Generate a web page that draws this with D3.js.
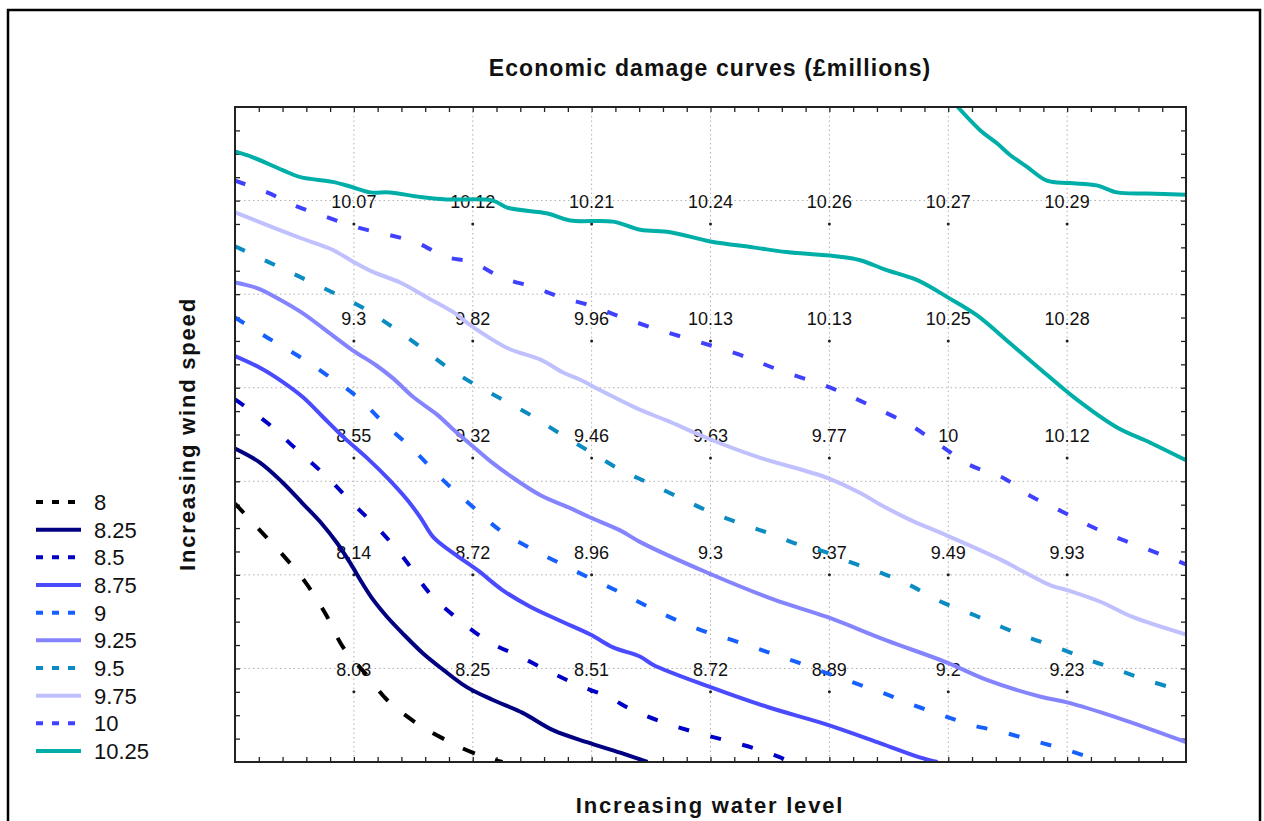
<!DOCTYPE html>
<html>
<head>
<meta charset="utf-8">
<title>Economic damage curves</title>
<script src="https://d3js.org/d3.v7.min.js"></script>
<style>
  body { margin: 0; background: #fff; }
  text { font-family: "Liberation Sans", Arial, sans-serif; fill: #111; }
</style>
</head>
<body>
<div id="chart"></div>
<script>
// value grid: columns = water level steps, rows = wind speed steps (bottom row first)
const waterSteps = [1, 2, 3, 4, 5, 6, 7];
const windSteps = [1, 2, 3, 4, 5];
const values = [
  [8.03, 8.25, 8.51, 8.72, 8.89, 9.2, 9.23],
  [8.14, 8.72, 8.96, 9.3, 9.37, 9.49, 9.93],
  [8.55, 9.32, 9.46, 9.63, 9.77, 10, 10.12],
  [9.3, 9.82, 9.96, 10.13, 10.13, 10.25, 10.28],
  [10.07, 10.12, 10.21, 10.24, 10.26, 10.27, 10.29]
];

// contour levels and their look
const levels = [8, 8.25, 8.5, 8.75, 9, 9.25, 9.5, 9.75, 10, 10.25];
const levelColors = ["#000000", "#000080", "#0000c8", "#4a4aff", "#1560ff",
                     "#8484ff", "#0a8bc2", "#c0c0ff", "#4040ff", "#00aea8"];
const levelDashed = [true, false, true, false, true, false, true, false, true, false];

// contour paths, in axis units [water, wind]
const c800 = [[0,2.61],[0.21,2.38],[0.42,2.15],[0.59,1.94],[0.76,1.67],[0.91,1.38],[1.11,1.14],
  [1.28,0.93],[1.53,0.73],[1.77,0.59],[2.0,0.48],[2.25,0.4]];
const c825 = [[0,3.08],[0.21,2.96],[0.4,2.79],[0.57,2.61],[0.72,2.45],[0.86,2.27],[0.97,2.1],
  [1.07,1.93],[1.16,1.79],[1.28,1.64],[1.41,1.5],[1.58,1.33],[1.75,1.19],[1.95,1.04],[2.17,0.93],
  [2.42,0.82],[2.68,0.67],[2.96,0.57],[3.24,0.48],[3.47,0.4]];
const c850 = [[0,3.5],[0.27,3.3],[0.52,3.07],[0.77,2.84],[0.99,2.61],[1.22,2.38],[1.43,2.13],
  [1.64,1.84],[1.89,1.61],[2.15,1.42],[2.4,1.3],[2.65,1.17],[2.88,1.06],[3.13,0.96],[3.35,0.84],
  [3.6,0.74],[3.85,0.66],[4.11,0.59],[4.36,0.52],[4.61,0.43],[4.67,0.4]];
const c875 = [[0,3.87],[0.21,3.77],[0.4,3.65],[0.57,3.52],[0.74,3.35],[0.91,3.18],[1.11,3.0],
  [1.3,2.81],[1.45,2.64],[1.56,2.49],[1.67,2.32],[1.83,2.19],[2.04,2.04],[2.25,1.87],[2.48,1.73],
  [2.73,1.61],[2.99,1.49],[3.18,1.38],[3.41,1.3],[3.52,1.23],[4.0,1.04],[4.48,0.87],[4.98,0.72],
  [5.43,0.56],[5.76,0.44],[5.91,0.4]];
const c900 = [[0,4.2],[0.27,4.03],[0.52,3.88],[0.77,3.71],[1.03,3.52],[1.25,3.3],[1.5,3.07],
  [1.75,2.81],[1.98,2.6],[2.23,2.38],[2.48,2.23],[2.73,2.1],[2.99,1.97],[3.24,1.85],[3.47,1.73],
  [3.72,1.61],[3.97,1.51],[4.22,1.43],[4.48,1.34],[4.71,1.26],[4.95,1.17],[5.2,1.08],[5.45,0.99],
  [5.7,0.89],[5.95,0.8],[6.18,0.72],[6.44,0.66],[6.69,0.59],[6.94,0.52],[7.19,0.44],[7.3,0.4]];
const c925 = [[0,4.5],[0.19,4.45],[0.35,4.37],[0.55,4.25],[0.74,4.11],[0.99,3.92],[1.19,3.79],
  [1.33,3.68],[1.5,3.52],[1.7,3.37],[1.85,3.23],[2.0,3.1],[2.15,2.97],[2.31,2.85],[2.57,2.68],
  [2.82,2.57],[2.99,2.49],[3.24,2.38],[3.41,2.28],[3.97,2.02],[4.53,1.79],[4.98,1.64],[5.48,1.44],
  [5.99,1.25],[6.33,1.1],[6.77,0.96],[7.0,0.91],[7.42,0.78],[8.0,0.57]];
const c950 = [[0,4.81],[0.27,4.68],[0.52,4.56],[0.77,4.44],[1.03,4.31],[1.28,4.15],[1.53,3.97],
  [1.78,3.78],[1.98,3.65],[2.23,3.51],[2.48,3.37],[2.73,3.21],[2.99,3.05],[3.24,2.9],[3.47,2.79],
  [3.72,2.67],[3.97,2.55],[4.22,2.45],[4.48,2.36],[4.71,2.27],[4.95,2.2],[5.2,2.1],[5.43,2.02],
  [5.68,1.91],[5.96,1.76],[6.21,1.66],[6.46,1.55],[6.69,1.46],[6.94,1.37],[7.19,1.27],[7.42,1.19],
  [7.67,1.1],[8.0,1.0]];
const c975 = [[0,5.1],[0.27,4.99],[0.55,4.88],[0.82,4.78],[0.99,4.68],[1.16,4.59],[1.39,4.5],
  [1.62,4.37],[1.83,4.25],[2.0,4.12],[2.29,3.94],[2.57,3.84],[2.76,3.73],[2.9,3.67],[3.07,3.58],
  [3.41,3.41],[3.63,3.32],[3.97,3.17],[4.39,3.01],[4.98,2.83],[5.26,2.7],[5.43,2.6],[5.68,2.47],
  [5.98,2.34],[6.44,2.13],[6.86,1.91],[7.0,1.87],[7.28,1.77],[7.55,1.64],[8.0,1.49]];
const c1000 = [[0,5.37],[0.27,5.27],[0.52,5.15],[0.77,5.06],[1.03,4.97],[1.28,4.91],[1.53,4.84],
  [1.77,4.72],[2.0,4.67],[2.25,4.54],[2.51,4.46],[2.75,4.37],[3.0,4.3],[3.26,4.2],[3.58,4.09],
  [3.91,3.99],[4.25,3.88],[4.58,3.75],[5.01,3.6],[5.34,3.45],[5.68,3.28],[5.93,3.11],[6.18,2.94],
  [6.46,2.83],[6.7,2.67],[6.96,2.54],[7.19,2.42],[7.44,2.31],[7.7,2.21],[8.0,2.09]];
const c1025a = [[0,5.62],[0.15,5.57],[0.4,5.46],[0.55,5.4],[0.82,5.36],[0.97,5.32],[1.14,5.27],
  [1.3,5.27],[1.56,5.23],[1.78,5.21],[2.17,5.2],[2.29,5.14],[2.63,5.09],[2.82,5.03],[3.18,5.02],
  [3.41,4.95],[3.66,4.93],[4.0,4.85],[4.36,4.8],[4.64,4.76],[5.09,4.72],[5.26,4.69],[5.47,4.61],
  [5.74,4.52],[6.0,4.37],[6.24,4.22],[6.52,3.98],[6.75,3.78],[7.08,3.5],[7.42,3.26],[7.7,3.13],
  [8.0,2.98]];
const c1025b = [[6.08,6.0],[6.27,5.8],[6.41,5.69],[6.52,5.59],[6.66,5.49],[6.83,5.37],[7.02,5.35],
  [7.25,5.33],[7.42,5.27],[7.67,5.26],[8.0,5.25]];

const contours = [
  { level: 8, pts: c800 }, { level: 8.25, pts: c825 }, { level: 8.5, pts: c850 },
  { level: 8.75, pts: c875 }, { level: 9, pts: c900 }, { level: 9.25, pts: c925 },
  { level: 9.5, pts: c950 }, { level: 9.75, pts: c975 }, { level: 10, pts: c1000 },
  { level: 10.25, pts: c1025a }, { level: 10.25, pts: c1025b }
];

// axis ranges (no tick labels on the original)
const xDomain = [0, 8];
const yDomain = [0.4, 6.0];
const xGrid = [1, 2, 3, 4, 5, 6, 7];
const yGrid = [1.2, 2.0, 2.8, 3.6, 4.4, 5.2];

const W = 1264, H = 821;
const plot = { left: 235, right: 1186, top: 107, bottom: 762 };

const svg = d3.select("#chart").append("svg")
  .attr("width", W).attr("height", H);

// outer frame
svg.append("rect")
  .attr("x", 8).attr("y", 10).attr("width", 1252).attr("height", 840)
  .attr("fill", "none").attr("stroke", "#000").attr("stroke-width", 2.5);

const x = d3.scaleLinear().domain(xDomain).range([plot.left, plot.right]);
const y = d3.scaleLinear().domain(yDomain).range([plot.bottom, plot.top]);

// dotted grid
const grid = svg.append("g").attr("stroke", "#b0b0b0").attr("stroke-width", 1)
  .attr("stroke-dasharray", "1.5,3");
grid.selectAll(".gx").data(xGrid).join("line")
  .attr("x1", d => x(d)).attr("x2", d => x(d))
  .attr("y1", plot.top).attr("y2", plot.bottom);
grid.selectAll(".gy").data(yGrid).join("line")
  .attr("y1", d => y(d)).attr("y2", d => y(d))
  .attr("x1", plot.left).attr("x2", plot.right);

// inward ticks on all four sides
const xTicks = d3.range(1, 40).map(i => i * 0.2);
const yTicks = d3.range(1, 28).map(i => 0.4 + i * 0.2);
function tickStyle(g) {
  g.select(".domain").remove();
  g.selectAll(".tick line").attr("stroke", "#222").attr("stroke-width", 1.3);
}
svg.append("g").attr("transform", `translate(0,${plot.bottom})`)
  .call(d3.axisBottom(x).tickValues(xTicks).tickSize(-5).tickFormat("")).call(tickStyle);
svg.append("g").attr("transform", `translate(0,${plot.top})`)
  .call(d3.axisTop(x).tickValues(xTicks).tickSize(-5).tickFormat("")).call(tickStyle);
svg.append("g").attr("transform", `translate(${plot.left},0)`)
  .call(d3.axisLeft(y).tickValues(yTicks).tickSize(-5).tickFormat("")).call(tickStyle);
svg.append("g").attr("transform", `translate(${plot.right},0)`)
  .call(d3.axisRight(y).tickValues(yTicks).tickSize(-5).tickFormat("")).call(tickStyle);

// data points and their values
const cells = [];
values.forEach((row, j) => row.forEach((v, i) => cells.push({ wx: waterSteps[i], wy: windSteps[j], v })));

svg.append("g").selectAll("circle").data(cells).join("circle")
  .attr("cx", d => x(d.wx)).attr("cy", d => y(d.wy)).attr("r", 1.5).attr("fill", "#222");

svg.append("g").selectAll("text").data(cells).join("text")
  .attr("x", d => x(d.wx)).attr("y", d => y(d.wy) - 16)
  .attr("text-anchor", "middle").attr("font-size", 18)
  .text(d => String(d.v));

// contour lines
svg.append("clipPath").attr("id", "clip").append("rect")
  .attr("x", plot.left).attr("y", plot.top)
  .attr("width", plot.right - plot.left).attr("height", plot.bottom - plot.top);

const line = d3.line().x(d => x(d[0])).y(d => y(d[1])).curve(d3.curveCatmullRom.alpha(0.5));

svg.append("g").attr("clip-path", "url(#clip)").selectAll("path").data(contours).join("path")
  .attr("d", d => line(d.pts))
  .attr("fill", "none")
  .attr("stroke", d => levelColors[levels.indexOf(d.level)])
  .attr("stroke-width", 4)
  .attr("stroke-dasharray", d => {
    const k = levels.indexOf(d.level);
    if (!levelDashed[k]) return null;
    return d.level === 8 ? "13,21" : "11,22";
  });

// plot frame
svg.append("rect")
  .attr("x", plot.left).attr("y", plot.top)
  .attr("width", plot.right - plot.left).attr("height", plot.bottom - plot.top)
  .attr("fill", "none").attr("stroke", "#222").attr("stroke-width", 2);

// titles
svg.append("text").attr("x", 710).attr("y", 76)
  .attr("text-anchor", "middle").attr("font-size", 23).attr("font-weight", "bold")
  .attr("letter-spacing", 1.1)
  .text("Economic damage curves (£millions)");
svg.append("text").attr("x", 710).attr("y", 813)
  .attr("text-anchor", "middle").attr("font-size", 22).attr("font-weight", "bold")
  .attr("letter-spacing", 1.8)
  .text("Increasing water level");
svg.append("text").attr("transform", "translate(195,434) rotate(-90)")
  .attr("text-anchor", "middle").attr("font-size", 22).attr("font-weight", "bold")
  .attr("letter-spacing", 1.8)
  .text("Increasing wind speed");

// legend
const legY = d3.scaleLinear().domain([0, levels.length - 1]).range([502, 751]);
const leg = svg.append("g").selectAll("g").data(levels).join("g")
  .attr("transform", (d, i) => `translate(0,${legY(i)})`);
leg.append("line")
  .attr("x1", 36).attr("x2", 81).attr("y1", 0).attr("y2", 0)
  .attr("stroke", (d, i) => levelColors[i]).attr("stroke-width", 4)
  .attr("stroke-dasharray", (d, i) => levelDashed[i] ? "7,9" : null);
leg.append("text").attr("x", 94).attr("y", 8).attr("font-size", 22)
  .text(d => String(d));
</script>
</body>
</html>
